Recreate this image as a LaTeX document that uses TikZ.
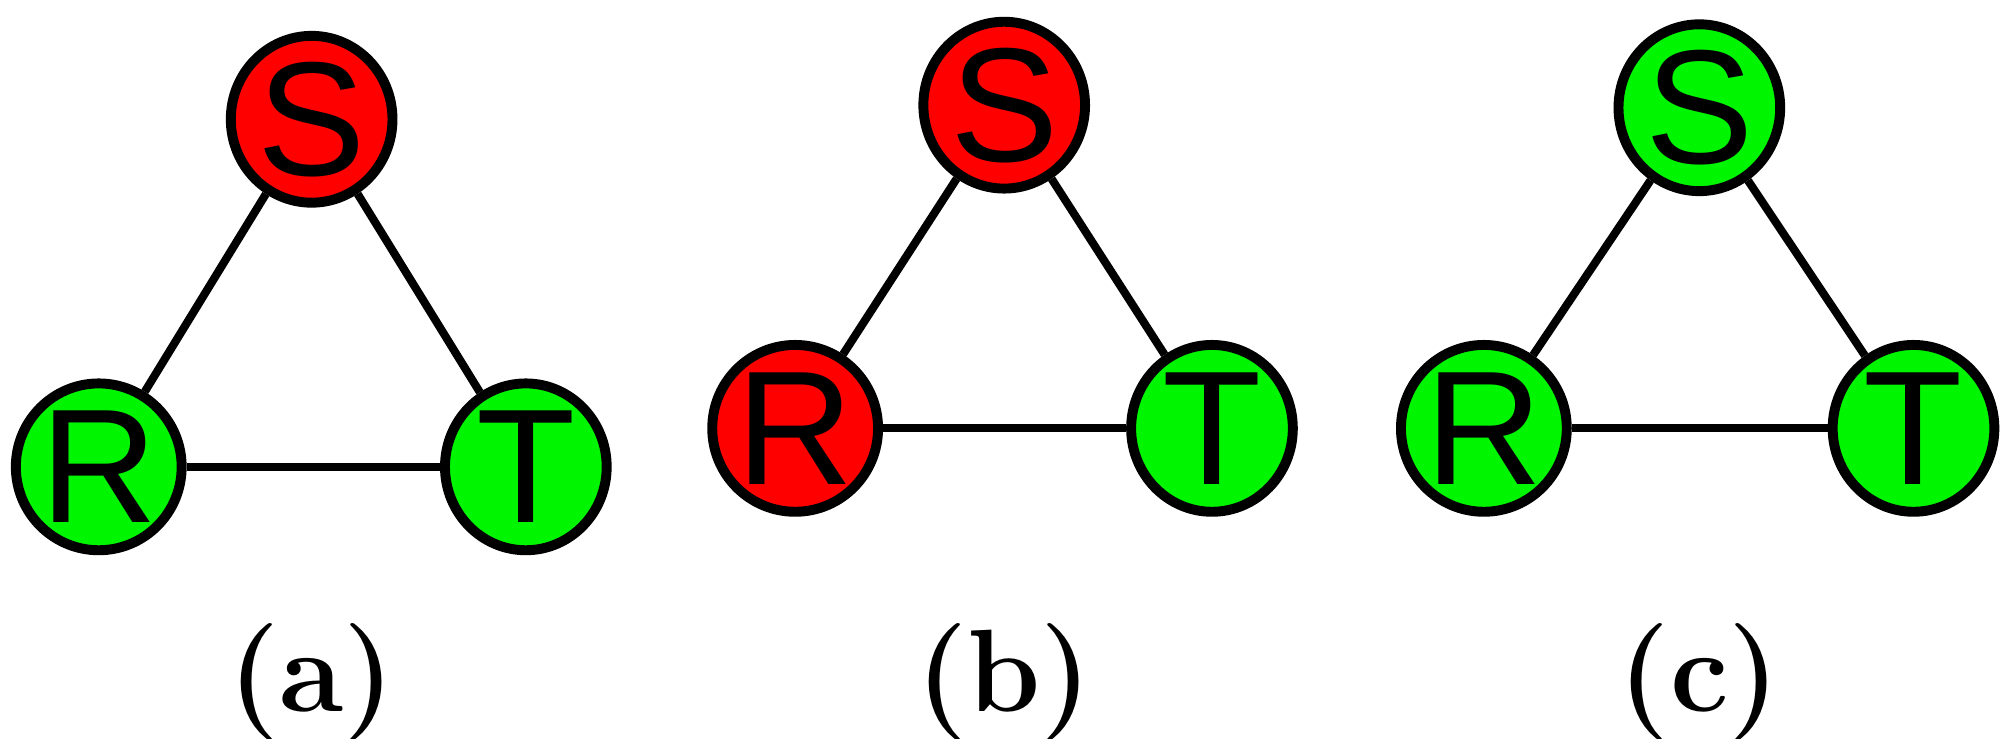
\documentclass[tikz,border=0pt]{standalone}
\usepackage{fontspec}
\newfontfamily\sansf{Liberation Sans}
\usetikzlibrary{shapes.geometric}
\definecolor{rd}{RGB}{255,0,0}
\definecolor{gr}{RGB}{0,245,0}
\begin{document}
\begin{tikzpicture}[x=0.01cm,y=-0.01cm,
  v/.style={ellipse,draw=black,line width=2.2pt,minimum width=1.26cm,minimum height=1.30cm,inner sep=0pt,font=\sansf\fontsize{36}{36}\selectfont},
  e/.style={line width=1.8pt},
  lab/.style={font=\bfseries\fontsize{26}{26}\selectfont}]
\useasboundingbox (0,0) rectangle (1568,576);
% (a)
\node[v,fill=rd] (aS) at (243,93) {S};
\node[v,fill=gr] (aR) at (77,364) {R};
\node[v,fill=gr] (aT) at (410,364) {T};
\draw[e] (aS) -- (aR); \draw[e] (aS) -- (aT); \draw[e] (aR) -- (aT);
\node[lab] (la) at (243,532) {(a)};
% (b)
\node[v,fill=rd] (bS) at (783,82) {S};
\node[v,fill=rd] (bR) at (620,334) {R};
\node[v,fill=gr] (bT) at (945,334) {T};
\draw[e] (bS) -- (bR); \draw[e] (bS) -- (bT); \draw[e] (bR) -- (bT);
\node[lab] (lb) at (783,532) {(b)};
% (c)
\node[v,fill=gr] (cS) at (1325,84) {S};
\node[v,fill=gr] (cR) at (1157,334) {R};
\node[v,fill=gr] (cT) at (1492,334) {T};
\draw[e] (cS) -- (cR); \draw[e] (cS) -- (cT); \draw[e] (cR) -- (cT);
\node[lab] (lc) at (1325,532) {(c)};
\end{tikzpicture}
\end{document}
